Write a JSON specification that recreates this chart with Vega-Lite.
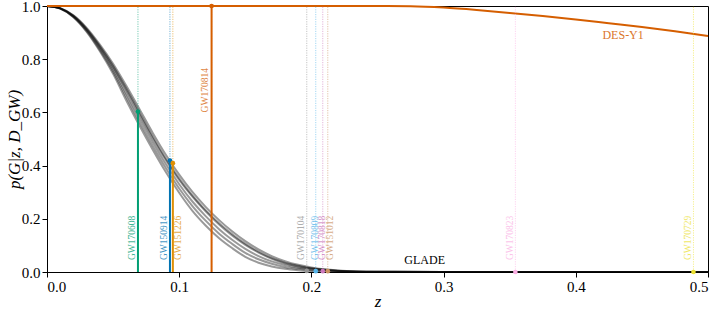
{
  "$schema": "https://vega.github.io/schema/vega-lite/v6.json",
  "width": 661,
  "height": 266,
  "autosize": {"type": "none"},
  "padding": {"left": 47, "top": 6, "right": 10, "bottom": 37},
  "config": {
    "font": "Liberation Serif",
    "view": {"stroke": "#000", "strokeWidth": 1},
    "axis": {
      "grid": false,
      "domainColor": "#000",
      "tickColor": "#000",
      "labelColor": "#000",
      "titleColor": "#000",
      "labelFont": "Liberation Serif",
      "titleFont": "Liberation Serif",
      "labelFontSize": 15,
      "titleFontSize": 17,
      "titleFontWeight": "normal",
      "titleFontStyle": "italic",
      "tickSize": 5,
      "labelPadding": 2
    }
  },
  "datasets": {
    "curves": [
      {"c":"c1","z":0,"p":1},{"c":"c1","z":0.01,"p":0.992},{"c":"c1","z":0.02,"p":0.965},{"c":"c1","z":0.03,"p":0.918},{"c":"c1","z":0.04,"p":0.855},{"c":"c1","z":0.05,"p":0.783},{"c":"c1","z":0.06,"p":0.7},{"c":"c1","z":0.07,"p":0.612},{"c":"c1","z":0.08,"p":0.523},{"c":"c1","z":0.09,"p":0.44},{"c":"c1","z":0.1,"p":0.366},{"c":"c1","z":0.11,"p":0.301},{"c":"c1","z":0.12,"p":0.245},{"c":"c1","z":0.13,"p":0.196},{"c":"c1","z":0.14,"p":0.153},{"c":"c1","z":0.15,"p":0.116},{"c":"c1","z":0.16,"p":0.085},{"c":"c1","z":0.17,"p":0.06},{"c":"c1","z":0.18,"p":0.041},{"c":"c1","z":0.19,"p":0.027},{"c":"c1","z":0.2,"p":0.017},{"c":"c1","z":0.22,"p":0.006},{"c":"c1","z":0.25,"p":0.001},{"c":"c1","z":0.3,"p":0},{"c":"c1","z":0.5,"p":0},
      {"c":"c2","z":0,"p":1},{"c":"c2","z":0.0098,"p":0.992},{"c":"c2","z":0.0196,"p":0.965},{"c":"c2","z":0.0294,"p":0.918},{"c":"c2","z":0.0392,"p":0.855},{"c":"c2","z":0.049,"p":0.783},{"c":"c2","z":0.0588,"p":0.7},{"c":"c2","z":0.0686,"p":0.612},{"c":"c2","z":0.0784,"p":0.523},{"c":"c2","z":0.0882,"p":0.44},{"c":"c2","z":0.098,"p":0.366},{"c":"c2","z":0.1078,"p":0.301},{"c":"c2","z":0.1176,"p":0.245},{"c":"c2","z":0.1275,"p":0.196},{"c":"c2","z":0.1373,"p":0.153},{"c":"c2","z":0.1471,"p":0.116},{"c":"c2","z":0.1569,"p":0.085},{"c":"c2","z":0.1667,"p":0.06},{"c":"c2","z":0.1765,"p":0.041},{"c":"c2","z":0.1863,"p":0.027},{"c":"c2","z":0.1961,"p":0.017},{"c":"c2","z":0.2157,"p":0.006},{"c":"c2","z":0.2451,"p":0.001},{"c":"c2","z":0.2941,"p":0},{"c":"c2","z":0.5,"p":0},
      {"c":"c3","z":0,"p":1},{"c":"c3","z":0.01,"p":0.991},{"c":"c3","z":0.02,"p":0.962},{"c":"c3","z":0.03,"p":0.912},{"c":"c3","z":0.04,"p":0.846},{"c":"c3","z":0.05,"p":0.771},{"c":"c3","z":0.06,"p":0.684},{"c":"c3","z":0.07,"p":0.593},{"c":"c3","z":0.08,"p":0.503},{"c":"c3","z":0.09,"p":0.42},{"c":"c3","z":0.1,"p":0.346},{"c":"c3","z":0.11,"p":0.283},{"c":"c3","z":0.12,"p":0.228},{"c":"c3","z":0.13,"p":0.179},{"c":"c3","z":0.14,"p":0.137},{"c":"c3","z":0.15,"p":0.102},{"c":"c3","z":0.16,"p":0.073},{"c":"c3","z":0.17,"p":0.05},{"c":"c3","z":0.18,"p":0.033},{"c":"c3","z":0.19,"p":0.021},{"c":"c3","z":0.2,"p":0.014},{"c":"c3","z":0.22,"p":0.005},{"c":"c3","z":0.25,"p":0.001},{"c":"c3","z":0.3,"p":0},{"c":"c3","z":0.5,"p":0},
      {"c":"c4","z":0,"p":1},{"c":"c4","z":0.01,"p":0.991},{"c":"c4","z":0.02,"p":0.961},{"c":"c4","z":0.03,"p":0.909},{"c":"c4","z":0.04,"p":0.841},{"c":"c4","z":0.05,"p":0.762},{"c":"c4","z":0.06,"p":0.671},{"c":"c4","z":0.07,"p":0.579},{"c":"c4","z":0.08,"p":0.489},{"c":"c4","z":0.09,"p":0.405},{"c":"c4","z":0.1,"p":0.33},{"c":"c4","z":0.11,"p":0.265},{"c":"c4","z":0.12,"p":0.21},{"c":"c4","z":0.13,"p":0.162},{"c":"c4","z":0.14,"p":0.121},{"c":"c4","z":0.15,"p":0.087},{"c":"c4","z":0.16,"p":0.06},{"c":"c4","z":0.17,"p":0.04},{"c":"c4","z":0.18,"p":0.026},{"c":"c4","z":0.19,"p":0.016},{"c":"c4","z":0.2,"p":0.011},{"c":"c4","z":0.22,"p":0.004},{"c":"c4","z":0.25,"p":0.001},{"c":"c4","z":0.3,"p":0},{"c":"c4","z":0.5,"p":0},
      {"c":"c5","z":0,"p":1},{"c":"c5","z":0.01,"p":0.99},{"c":"c5","z":0.02,"p":0.959},{"c":"c5","z":0.03,"p":0.906},{"c":"c5","z":0.04,"p":0.835},{"c":"c5","z":0.05,"p":0.754},{"c":"c5","z":0.06,"p":0.658},{"c":"c5","z":0.07,"p":0.564},{"c":"c5","z":0.08,"p":0.474},{"c":"c5","z":0.09,"p":0.39},{"c":"c5","z":0.1,"p":0.314},{"c":"c5","z":0.11,"p":0.248},{"c":"c5","z":0.12,"p":0.193},{"c":"c5","z":0.13,"p":0.145},{"c":"c5","z":0.14,"p":0.106},{"c":"c5","z":0.15,"p":0.072},{"c":"c5","z":0.16,"p":0.048},{"c":"c5","z":0.17,"p":0.031},{"c":"c5","z":0.18,"p":0.019},{"c":"c5","z":0.19,"p":0.012},{"c":"c5","z":0.2,"p":0.007},{"c":"c5","z":0.22,"p":0.002},{"c":"c5","z":0.25,"p":0},{"c":"c5","z":0.3,"p":0},{"c":"c5","z":0.5,"p":0},
      {"c":"c6","z":0,"p":1},{"c":"c6","z":0.01,"p":0.99},{"c":"c6","z":0.02,"p":0.958},{"c":"c6","z":0.03,"p":0.903},{"c":"c6","z":0.04,"p":0.83},{"c":"c6","z":0.05,"p":0.745},{"c":"c6","z":0.06,"p":0.645},{"c":"c6","z":0.07,"p":0.55},{"c":"c6","z":0.08,"p":0.46},{"c":"c6","z":0.09,"p":0.375},{"c":"c6","z":0.1,"p":0.298},{"c":"c6","z":0.11,"p":0.23},{"c":"c6","z":0.12,"p":0.175},{"c":"c6","z":0.13,"p":0.128},{"c":"c6","z":0.14,"p":0.09},{"c":"c6","z":0.15,"p":0.057},{"c":"c6","z":0.16,"p":0.035},{"c":"c6","z":0.17,"p":0.021},{"c":"c6","z":0.18,"p":0.012},{"c":"c6","z":0.19,"p":0.007},{"c":"c6","z":0.2,"p":0.004},{"c":"c6","z":0.22,"p":0.001},{"c":"c6","z":0.25,"p":0},{"c":"c6","z":0.3,"p":0},{"c":"c6","z":0.5,"p":0}
    ],
    "des": [
      {"z":0,"p":1},{"z":0.25,"p":1},{"z":0.275,"p":0.999},{"z":0.3,"p":0.994},{"z":0.325,"p":0.985},{"z":0.35,"p":0.974},{"z":0.375,"p":0.962},{"z":0.4,"p":0.949},{"z":0.425,"p":0.935},{"z":0.45,"p":0.921},{"z":0.475,"p":0.905},{"z":0.5,"p":0.887}
    ],
    "events": [
      {"name":"GW170608","z":0.0688,"p":0.603,"lz":0.0642,"ly":0.045},
      {"name":"GW150914","z":0.093,"p":0.419,"lz":0.0884,"ly":0.045},
      {"name":"GW151226","z":0.0952,"p":0.409,"lz":0.099,"ly":0.045},
      {"name":"GW170814","z":0.1245,"p":1.0,"lz":0.1198,"ly":0.6},
      {"name":"GW170104","z":0.1965,"p":0.004,"lz":0.192,"ly":0.045},
      {"name":"GW170809","z":0.2033,"p":0.003,"lz":0.203,"ly":0.045},
      {"name":"GW170818","z":0.2086,"p":0.003,"lz":0.2079,"ly":0.045},
      {"name":"GW151012","z":0.2124,"p":0.003,"lz":0.2139,"ly":0.045},
      {"name":"GW170823","z":0.3543,"p":0.0,"lz":0.3503,"ly":0.045},
      {"name":"GW170729","z":0.489,"p":0.0,"lz":0.4845,"ly":0.045}
    ]
  },
  "layer": [
    {
      "data": {"name": "curves"},
      "mark": {"type": "line", "interpolate": "monotone", "strokeWidth": 2, "color": "#000"},
      "encoding": {
        "x": {"field": "z", "type": "quantitative", "scale": {"domain": [0, 0.5], "nice": false}, "axis": {"values": [0, 0.1, 0.2, 0.3, 0.4, 0.5], "format": ".1f", "title": "z", "titleBaseline": "alphabetic", "titleY": 34}},
        "y": {"field": "p", "type": "quantitative", "scale": {"domain": [0, 1], "nice": false}, "axis": {"values": [0, 0.2, 0.4, 0.6, 0.8, 1.0], "format": ".1f", "title": "p(G|z, D_GW)", "titleX": -33, "titleBaseline": "middle"}},
        "detail": {"field": "c", "type": "nominal"},
        "opacity": {"field": "c", "type": "nominal", "scale": {"domain": ["c1","c2","c3","c4","c5","c6"], "range": [0.4, 0.4, 0.4, 0.3, 0.3, 0.3]}, "legend": null}
      }
    },
    {
      "data": {"name": "des"},
      "mark": {"type": "line", "interpolate": "monotone", "strokeWidth": 2, "color": "#d55e00"},
      "encoding": {
        "x": {"field": "z", "type": "quantitative"},
        "y": {"field": "p", "type": "quantitative"}
      }
    },
    {
      "data": {"name": "events"},
      "mark": {"type": "rule", "strokeWidth": 1, "strokeDash": [1.2, 1.2], "opacity": 0.55},
      "encoding": {
        "x": {"field": "z", "type": "quantitative"},
        "y": {"datum": 0, "type": "quantitative"},
        "y2": {"datum": 1},
        "color": {"field": "name", "type": "nominal", "scale": {"domain": ["GW170608","GW150914","GW151226","GW170814","GW170104","GW170809","GW170818","GW151012","GW170823","GW170729"], "range": ["#029e73","#0173b2","#de8f05","#d55e00","#949494","#56b4e9","#cc78bc","#ca9161","#fbafe4","#ece133"]}, "legend": null}
      }
    },
    {
      "data": {"name": "events"},
      "mark": {"type": "rule", "strokeWidth": 2},
      "encoding": {
        "x": {"field": "z", "type": "quantitative"},
        "y": {"field": "p", "type": "quantitative"},
        "y2": {"datum": 0},
        "color": {"field": "name", "type": "nominal"}
      }
    },
    {
      "data": {"name": "events"},
      "mark": {"type": "point", "filled": true, "size": 22, "opacity": 1},
      "encoding": {
        "x": {"field": "z", "type": "quantitative"},
        "y": {"field": "p", "type": "quantitative"},
        "color": {"field": "name", "type": "nominal"}
      }
    },
    {
      "data": {"name": "events"},
      "mark": {"type": "text", "angle": 270, "align": "left", "baseline": "middle", "fontSize": 9.5, "opacity": 0.75, "font": "Liberation Serif"},
      "encoding": {
        "x": {"field": "lz", "type": "quantitative"},
        "y": {"field": "ly", "type": "quantitative"},
        "text": {"field": "name", "type": "nominal"},
        "color": {"field": "name", "type": "nominal"}
      }
    },
    {
      "data": {"values": [{"label": "GLADE", "z": 0.2857, "p": 0.045}]},
      "mark": {"type": "text", "align": "center", "baseline": "middle", "fontSize": 12, "color": "#000", "font": "Liberation Serif"},
      "encoding": {
        "x": {"field": "z", "type": "quantitative"},
        "y": {"field": "p", "type": "quantitative"},
        "text": {"field": "label", "type": "nominal"}
      }
    },
    {
      "data": {"values": [{"label": "DES-Y1", "z": 0.4358, "p": 0.891}]},
      "mark": {"type": "text", "align": "center", "baseline": "middle", "fontSize": 12, "color": "#d55e00", "opacity": 0.85, "font": "Liberation Serif"},
      "encoding": {
        "x": {"field": "z", "type": "quantitative"},
        "y": {"field": "p", "type": "quantitative"},
        "text": {"field": "label", "type": "nominal"}
      }
    }
  ]
}
